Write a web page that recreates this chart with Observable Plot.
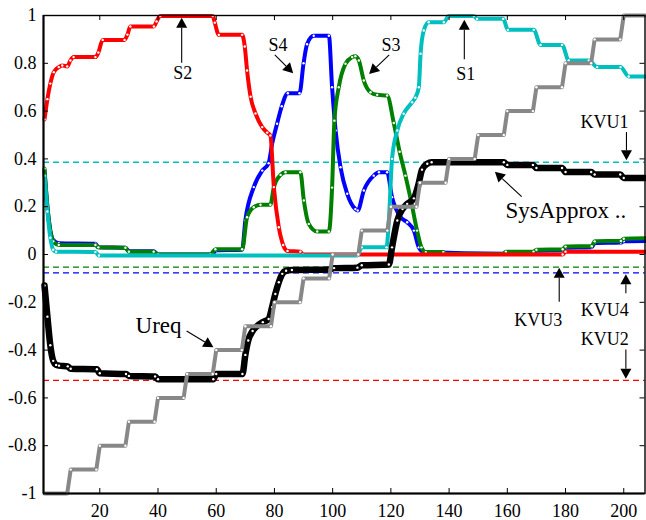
<!DOCTYPE html>
<html>
<head>
<meta charset="utf-8">
<script src="https://cdn.jsdelivr.net/npm/d3@7"></script>
<script src="https://cdn.jsdelivr.net/npm/@observablehq/plot@0.6"></script>
<style>
  body { margin: 0; background: white; }
  #chart svg { display: block; }
</style>
</head>
<body>
<div id="chart"></div>
<script>
// ---------- Data ----------
// Ureq (gray staircase)
const ureqX = [1, 8.8, 10, 18.8, 20, 28.8, 30, 38.8, 40, 48.8, 50, 58.8, 60, 68.8, 70, 78.8, 80, 88.8, 90, 98.8, 100, 108.8, 110, 118.8, 120, 128.8, 130, 138.8, 140, 148.8, 150, 158.8, 160, 168.8, 170, 178.8, 180, 188.8, 190, 198.8, 200, 208];
const ureqY = [-1, -1, -0.9, -0.9, -0.8, -0.8, -0.7, -0.7, -0.6, -0.6, -0.5, -0.5, -0.4, -0.4, -0.3, -0.3, -0.2, -0.2, -0.1, -0.1, 0, 0, 0.1, 0.1, 0.2, 0.2, 0.3, 0.3, 0.4, 0.4, 0.5, 0.5, 0.6, 0.6, 0.7, 0.7, 0.8, 0.8, 0.9, 0.9, 1, 1];

// SysApprox (black)
const sysX = [1, 2, 3, 4, 5, 6, 9, 10, 19, 20, 29, 30, 39, 40, 59, 60, 69, 70, 71, 72.5, 74, 76, 78, 79.2, 80.3, 81.5, 82.7, 84, 86, 99, 100.5, 108.5, 110, 119.3, 120.4, 122.2, 124, 125.6, 127.9, 129.6, 130.7, 132.5, 134, 158.8, 160, 168.8, 170, 178.8, 180, 188.8, 190, 198.8, 200, 208];
const sysY = [-0.13, -0.26, -0.38, -0.445, -0.462, -0.465, -0.468, -0.478, -0.48, -0.497, -0.5, -0.508, -0.51, -0.522, -0.522, -0.5, -0.5, -0.42, -0.36, -0.32, -0.3, -0.283, -0.27, -0.22, -0.165, -0.116, -0.081, -0.068, -0.065, -0.063, -0.057, -0.055, -0.045, -0.042, 0.03, 0.142, 0.19, 0.212, 0.235, 0.3, 0.355, 0.38, 0.386, 0.386, 0.375, 0.375, 0.362, 0.362, 0.345, 0.345, 0.335, 0.335, 0.32, 0.32];

// S2 (red)
const s2X = [1, 2, 3, 4.2, 5.9, 7.1, 8.8, 9.9, 11, 18.5, 19.5, 21, 28.5, 29.5, 30.5, 38.6, 39.5, 40.8, 58.8, 59.5, 60.9, 68.9, 69.8, 70.6, 71.8, 73.5, 75.8, 77.5, 78.6, 79.8, 81.5, 83, 84.5, 88.9, 89.8, 179, 180, 208];
const s2Y = [0.565, 0.65, 0.715, 0.763, 0.784, 0.791, 0.787, 0.812, 0.826, 0.826, 0.845, 0.898, 0.898, 0.92, 0.954, 0.954, 0.975, 0.998, 0.998, 0.97, 0.919, 0.919, 0.87, 0.77, 0.66, 0.59, 0.533, 0.51, 0.498, 0.282, 0.114, 0.04, 0.015, 0.012, 0, 0, 0.012, 0.012];

// S4 (blue)
const s4X = [1, 2, 3, 4, 5.9, 18.5, 19.5, 28.8, 30, 38.5, 40, 58.5, 60, 68.9, 70, 72.9, 75.8, 78, 79.2, 80.9, 82.5, 84.6, 88.6, 90, 91.2, 93.5, 98.7, 99.8, 101, 102.7, 105, 107.8, 108.6, 110.7, 114.1, 115.9, 118.7, 120.4, 123.3, 125.6, 127.9, 129.6, 131.3, 159, 160, 169, 170, 179, 180, 189, 190, 199, 200, 208];
const s4Y = [0.35, 0.2, 0.1, 0.06, 0.047, 0.045, 0.03, 0.028, 0.014, 0.014, 0, 0, 0.018, 0.02, 0.142, 0.282, 0.351, 0.382, 0.463, 0.547, 0.62, 0.675, 0.675, 0.8, 0.88, 0.915, 0.915, 0.7, 0.519, 0.365, 0.254, 0.19, 0.184, 0.268, 0.33, 0.344, 0.344, 0.24, 0.156, 0.135, 0.1, 0.03, 0.01, 0.003, 0.008, 0.01, 0.016, 0.018, 0.028, 0.03, 0.048, 0.05, 0.055, 0.056];

// S3 (green)
const s3X = [1, 2, 3, 4, 5.9, 18.5, 19.5, 28.8, 30, 38.5, 40, 58, 59.7, 68.9, 70.6, 72.9, 75.2, 78.6, 79.8, 82.1, 83.8, 88.9, 90.1, 91.8, 94.7, 98.7, 99.8, 100.6, 102.1, 104.4, 106.7, 107.8, 109, 110.7, 113, 115.3, 118.7, 121, 123, 125, 127, 129, 130.5, 132, 138, 139, 158.5, 159.5, 169, 170, 179, 180, 189, 190, 199, 200, 208];
const s3Y = [0.36, 0.2, 0.1, 0.055, 0.04, 0.04, 0.03, 0.028, 0.012, 0.012, 0, 0, 0.022, 0.022, 0.156, 0.198, 0.208, 0.208, 0.282, 0.333, 0.344, 0.344, 0.226, 0.128, 0.096, 0.096, 0.28, 0.56, 0.7, 0.798, 0.826, 0.83, 0.812, 0.728, 0.679, 0.668, 0.665, 0.55, 0.43, 0.33, 0.22, 0.1, 0.03, 0.01, 0.01, 0.002, 0.002, 0.012, 0.012, 0.02, 0.022, 0.033, 0.035, 0.055, 0.057, 0.066, 0.068];

// S1 (cyan)
const s1X = [1, 2, 3, 4, 5, 18.5, 19.7, 108.5, 110, 118.5, 119.3, 120.4, 122.2, 124.4, 127.3, 128.4, 129.6, 130.2, 131.3, 133, 138.2, 139.9, 148.5, 149.6, 158.6, 160.2, 169.1, 171.4, 178.8, 181.1, 188, 190.9, 198.9, 201.7, 208];
const s1Y = [0.33, 0.18, 0.07, 0.02, 0.012, 0.01, -0.004, -0.004, 0.03, 0.03, 0.142, 0.4, 0.519, 0.589, 0.637, 0.656, 0.7, 0.84, 0.937, 0.972, 0.972, 0.998, 0.998, 0.986, 0.986, 0.94, 0.94, 0.877, 0.877, 0.812, 0.812, 0.784, 0.784, 0.745, 0.745];

// Limit lines (dashed)
const kvuNames = ["KVU1", "KVU3", "KVU4", "KVU2"];
const kvuValues = [0.386, -0.053, -0.077, -0.527];
const kvuColors = ["#00bfbf", "#008000", "#0000ff", "#ff0000"];

// Annotations: label text and positions (data units)
const labelText = ["S2", "S4", "S3", "S1", "KVU1", "KVU3", "KVU4", "KVU2"];
const labelX = [48.5, 81.2, 120, 145.7, 193.4, 170.6, 193.5, 193.5];
const labelY = [0.758, 0.874, 0.874, 0.756, 0.554, -0.276, -0.234, -0.353];
const bigLabelText = ["SysApprox ..", "Ureq"];
const bigLabelX = [159.4, 32.3];
const bigLabelY = [0.184, -0.297];

// Arrows: tail (x1,y1) -> tip (x2,y2)
const arrowX1 = [48.3, 80.3, 119.6, 145.4, 201.1, 165.1, 178, 200.9, 200.9, 50];
const arrowY1 = [0.8, 0.833, 0.833, 0.815, 0.51, 0.24, -0.2, -0.164, -0.4, -0.322];
const arrowX2 = [48.3, 86.6, 112.7, 145.4, 201.1, 155.9, 178, 200.9, 200.9, 59.2];
const arrowY2 = [0.988, 0.756, 0.753, 0.98, 0.392, 0.344, -0.058, -0.085, -0.522, -0.39];

// Axis ticks
const xTicks = [20, 40, 60, 80, 100, 120, 140, 160, 180, 200];
const yTicks = [-1, -0.8, -0.6, -0.4, -0.2, 0, 0.2, 0.4, 0.6, 0.8, 1];
const yTickLabels = ["-1", "-0.8", "-0.6", "-0.4", "-0.2", "0", "0.2", "0.4", "0.6", "0.8", "1"];

// ---------- Build ----------
const W = 646, H = 520;
const mL = 43, mR = 1.5, mT = 15, mB = 27;
const innerW = W - mL - mR, innerH = H - mT - mB;

const pts = (xs, ys) => xs.map((x, i) => ({x, y: ys[i]}));
const series = [
  {d: pts(s4X, s4Y), color: "#0000ff", w: 4, curve: "monotone-x"},
  {d: pts(s3X, s3Y), color: "#008000", w: 4, curve: "monotone-x"},
  {d: pts(s2X, s2Y), color: "#ff0000", w: 4, curve: "monotone-x"},
  {d: pts(s1X, s1Y), color: "#00bfbf", w: 4, curve: "monotone-x"},
  {d: pts(sysX, sysY), color: "#000000", w: 6.5, curve: "monotone-x"},
  {d: pts(ureqX, ureqY), color: "#888888", w: 4, curve: "linear"}
];

function arrowsMark(index, scales) {
  const g = d3.create("svg:g");
  for (let i = 0; i < arrowX1.length; i++) {
    const x1 = scales.x(arrowX1[i]), y1 = scales.y(arrowY1[i]);
    const x2 = scales.x(arrowX2[i]), y2 = scales.y(arrowY2[i]);
    const a = Math.atan2(y2 - y1, x2 - x1);
    const L = 10, hw = 5.5;
    const bx = x2 - L * Math.cos(a), by = y2 - L * Math.sin(a);
    g.append("line").attr("x1", x1).attr("y1", y1).attr("x2", bx).attr("y2", by)
      .attr("stroke", "black").attr("stroke-width", 1.1);
    g.append("path")
      .attr("d", `M${x2},${y2}L${bx + hw * Math.sin(a)},${by - hw * Math.cos(a)}L${bx - hw * Math.sin(a)},${by + hw * Math.cos(a)}Z`)
      .attr("fill", "black");
  }
  return g.node();
}

const marks = [];
// dashed limit lines
kvuValues.forEach((v, i) => {
  marks.push(Plot.ruleY([v], {stroke: kvuColors[i], strokeWidth: 1.3, strokeDasharray: "6,4"}));
});
// series lines + white markers
series.forEach(s => {
  marks.push(Plot.line(s.d, {x: "x", y: "y", stroke: s.color, strokeWidth: s.w, curve: s.curve, strokeLinejoin: "round", strokeLinecap: "round"}));
  marks.push(Plot.dot(s.d, {x: "x", y: "y", r: 1.2, fill: "white", stroke: null}));
});
// frame and inward ticks
marks.push(Plot.frame({stroke: "black", strokeWidth: 1.4}));
marks.push(Plot.ruleY([-1], {stroke: "black", strokeWidth: 2}));
marks.push(Plot.ruleX([0.66], {stroke: "black", strokeWidth: 2}));
marks.push(Plot.tickX(xTicks, {x: d => d, insetTop: innerH - 5, stroke: "black"}));
marks.push(Plot.tickX(xTicks, {x: d => d, insetBottom: innerH - 5, stroke: "black"}));
marks.push(Plot.tickY(yTicks, {y: d => d, insetRight: innerW - 5, stroke: "black"}));
marks.push(Plot.tickY(yTicks, {y: d => d, insetLeft: innerW - 5, stroke: "black"}));
marks.push(Plot.axisX(xTicks, {anchor: "bottom", tickSize: 0, tickPadding: 11, fontSize: 18, label: null, tickFormat: d => String(d)}));
marks.push(Plot.axisY(yTicks, {anchor: "left", tickSize: 0, tickPadding: 7, fontSize: 18, label: null, tickFormat: d => yTickLabels[yTicks.indexOf(d)]}));
// annotations
marks.push(arrowsMark);
marks.push(Plot.text(labelText, {x: labelX, y: labelY, text: labelText, fontSize: 18, fill: "black", textAnchor: "middle", lineAnchor: "middle"}));
marks.push(Plot.text(bigLabelText, {x: bigLabelX, y: bigLabelY, text: bigLabelText, fontSize: 23, fill: "black", textAnchor: "start", lineAnchor: "middle"}));

const chart = Plot.plot({
  width: W,
  height: H,
  marginLeft: mL,
  marginRight: mR,
  marginTop: mT,
  marginBottom: mB,
  style: {fontFamily: "'Liberation Serif', 'Times New Roman', serif", fontSize: "18px", background: "white", color: "black"},
  x: {domain: [0.66, 207.3]},
  y: {domain: [-1, 1]},
  marks
});
document.getElementById("chart").appendChild(chart);
</script>
</body>
</html>
